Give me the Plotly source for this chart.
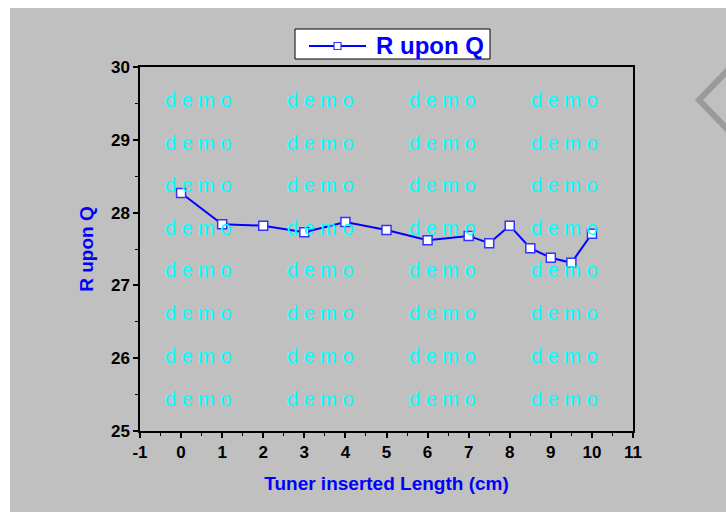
import plotly.graph_objects as go

# Data
tuner_length = [0, 1, 2, 3, 4, 5, 6, 7, 7.5, 8, 8.5, 9, 9.5, 10]
r_upon_q = [28.27, 27.84, 27.82, 27.73, 27.87, 27.76, 27.62, 27.68, 27.58, 27.82, 27.51, 27.38, 27.31, 27.71]
x_ticks = list(range(-1, 12))
y_ticks = list(range(25, 31))
series_name = "R upon Q"

W, H = 726, 512
L, R, T, B = 140, 633, 67, 431
pw, ph = R - L, B - T

def px(x):
    return (x - L) / pw

def py(y):
    return 1 - (y - T) / ph

FONT = "Arial, Liberation Sans, sans-serif"
GRAY = "#c0c0c0"
BLUE = "#0000ff"

fig = go.Figure()
fig.add_trace(go.Scatter(
    x=tuner_length, y=r_upon_q, mode="lines+markers", name=series_name, showlegend=False,
    line=dict(color=BLUE, width=2),
    marker=dict(symbol="square", size=9, color="white", line=dict(color="#3333ff", width=1.5)),
))

axis_common = dict(
    showgrid=False, zeroline=False, showline=True, linecolor="black", linewidth=1.5,
    mirror=True, ticks="outside", ticklen=5, tickwidth=1.5, tickcolor="black",
    tickfont=dict(family=FONT, size=17, color="black", weight="bold"),
)
fig.update_xaxes(
    range=[-1, 11], tickvals=x_ticks, ticktext=[str(v) for v in x_ticks],
    minor=dict(dtick=0.5, ticklen=3, tickwidth=1.2, tickcolor="black", ticks="outside"),
    title=dict(text="Tuner inserted Length (cm)", font=dict(family=FONT, size=19, color=BLUE, weight="bold"), standoff=16),
    **axis_common,
)
fig.update_yaxes(
    range=[25, 30], tickvals=y_ticks, ticktext=[str(v) for v in y_ticks],
    minor=dict(dtick=0.5, ticklen=3, tickwidth=1.2, tickcolor="black", ticks="outside"),
    title=dict(text="R upon Q", font=dict(family=FONT, size=19, color=BLUE, weight="bold"), standoff=12),
    **axis_common,
)

shapes = [
    # white page strips (left and top)
    dict(type="rect", xref="paper", yref="paper", x0=px(-5), x1=px(10), y0=py(520), y1=py(-5),
         fillcolor="white", line=dict(width=0), layer="below"),
    dict(type="rect", xref="paper", yref="paper", x0=px(-5), x1=px(740), y0=py(8), y1=py(-5),
         fillcolor="white", line=dict(width=0), layer="below"),
    # chevron at right edge
    dict(type="path", xref="paper", yref="paper",
         path=f"M {px(730)} {py(68)} L {px(699)} {py(100)} L {px(730)} {py(132)}",
         line=dict(color="#9a9a9a", width=6), layer="below"),
    # custom legend box
    dict(type="rect", xref="paper", yref="paper", x0=px(295), x1=px(490), y0=py(59), y1=py(29),
         fillcolor="white", line=dict(color="black", width=1), layer="above"),
    dict(type="line", xref="paper", yref="paper", x0=px(309), x1=px(334), y0=py(46), y1=py(46),
         line=dict(color=BLUE, width=2), layer="above"),
    dict(type="line", xref="paper", yref="paper", x0=px(341), x1=px(366), y0=py(46), y1=py(46),
         line=dict(color=BLUE, width=2), layer="above"),
    dict(type="rect", xref="paper", yref="paper", x0=px(334), x1=px(341), y0=py(49.5), y1=py(42.5),
         fillcolor="white", line=dict(color="#3333ff", width=1.2), layer="above"),
]

annotations = []
cols = [198, 320, 442, 564]
rows = [100, 143, 185, 228, 270, 313, 356, 399]
for cy in rows:
    for cx in cols:
        annotations.append(dict(
            x=px(cx), y=py(cy), xref="paper", yref="paper", text="d e m o", showarrow=False,
            font=dict(family=FONT, size=20, color="#00ffff"), xanchor="center", yanchor="middle",
        ))
annotations.append(dict(
    x=px(374), y=py(45), xref="paper", yref="paper", text=series_name, showarrow=False,
    font=dict(family=FONT, size=24, color=BLUE, weight="bold"), xanchor="left", yanchor="middle",
))

fig.update_layout(
    width=W, height=H, margin=dict(l=L, r=W - R, t=T, b=H - B),
    paper_bgcolor=GRAY, plot_bgcolor=GRAY,
    shapes=shapes, annotations=annotations,
    showlegend=False,
)

fig.write_html("out.html")
